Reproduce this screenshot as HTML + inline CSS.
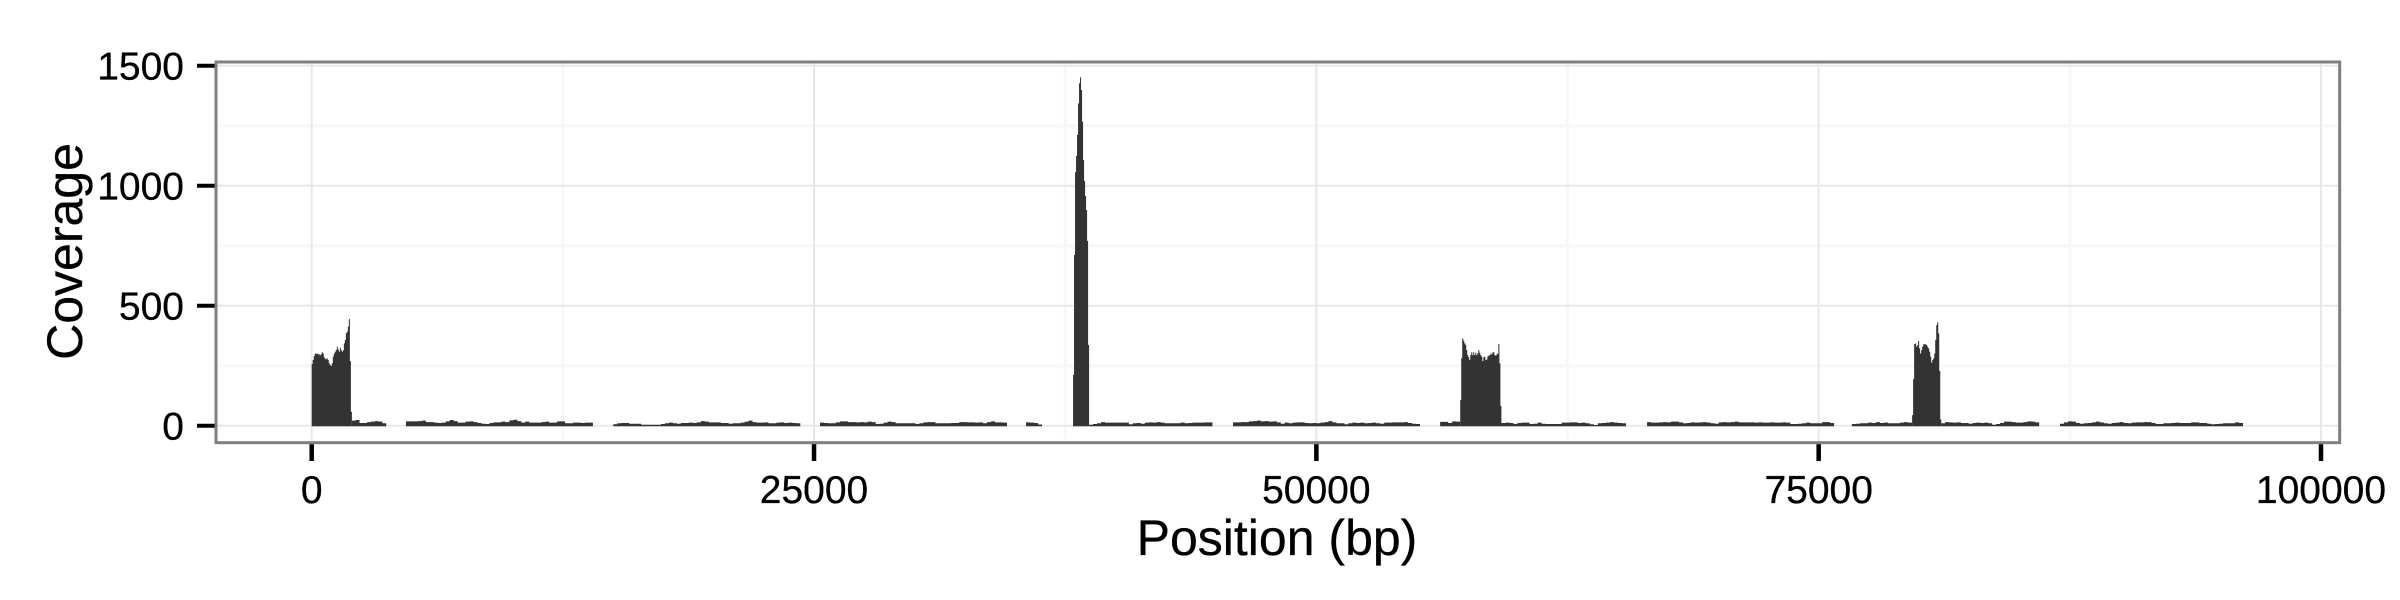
<!DOCTYPE html>
<html lang="en">
<head>
<meta charset="utf-8">
<title>Coverage by position</title>
<style>
html,body{margin:0;padding:0;background:#fff;width:2400px;height:600px;overflow:hidden}
svg{display:block}
text{font-family:"Liberation Sans",Arial,sans-serif;fill:#000;stroke:#000;stroke-width:0.3px}
</style>
</head>
<body>
<svg id="chart" xmlns="http://www.w3.org/2000/svg" width="2400" height="600" viewBox="0 0 2400 600">
  <rect x="0" y="0" width="2400" height="600" fill="#ffffff"/>
  <g id="grid"></g>
  <g id="marks"></g>
  <rect x="216" y="62" width="2123.7" height="380.7" fill="none" stroke="#7f7f7f" stroke-width="3"/>
  <g id="ticks"></g>
  <g id="labels"></g>
  <text x="1277" y="555" font-size="50" text-anchor="middle">Position (bp)</text>
  <text x="0" y="0" font-size="50" text-anchor="middle" transform="translate(82,251.5) rotate(-90)">Coverage</text>
</svg>
<script>
const xTickValues = [0, 25000, 50000, 75000, 100000];
const yTickValues = [0, 500, 1000, 1500];
const xMinorValues = [12500, 37500, 62500, 87500];
const yMinorValues = [250, 750, 1250];

const peak1Values = [257,274,290,301,300,301,297,298,293,297,306,301,285,279,277,281,274,260,253,249,260,288,301,308,315,329,318,308,325,315,308,315,343,357,385,392,413,444,269,58];
const tail1Values = [21,24,11,11,15,17,19,17,10];
const low2Values = [18,18,18,19,21,15,15,13,11,13,18,24,19,13,13,17,18,15,11,8,7,11,14,14,17,15,22,25,19,13,17,13,13,13,15,17,13,13,18,18,10,10,13,13,11,13,13];
const low3Values = [6,10,11,11,8,8,8,4,4,4,4,4,7,10,13,10,8,11,11,13,11,14,19,17,14,14,14,11,11,8,10,10,13,17,21,15,13,13,14,10,10,13,14,11,13,11,10];
const low4Values = [13,11,10,10,14,18,18,15,15,14,15,14,17,15,7,8,13,17,15,10,10,10,10,10,7,10,14,15,15,10,10,10,10,11,11,15,15,14,14,13,14,10,15,18,14,14,13];
const low5Values = [14,13,11,5];
const peak2Values = [211,711,1056,1124,1211,1343,1427,1452,1399,1267,1107,1020,957,899,770,336];
const post2Values = [4,7,10,15,13,13,13,13,13,13,6,10,11,8,13,14,13,15,13,10,10,10,10,13,10,11,13,13,13,14,14];
const low7Values = [14,14,15,15,18,19,21,18,19,17,18,14,8,13,10,13,14,14,11,10,11,10,13,15,19,14,10,10,6,10,13,11,13,10,11,13,10,8,13,13,14,14,14,15,11,8,7];
const pre3Values = [16,16,11,18,17];
const peak3Values = [107,281,364,354,343,336,315,294,285,274,294,306,294,306,294,304,294,301,315,304,294,288,269,285,288,274,276,288,292,294,301,297,306,306,294,292,297,301,340,260,82];
const post3Values = [11,13,11,7,11,13,13,7,8,13,8,7,7,7,7,13,13,14,14,11,13,10,6,3,10,11,13,15,13,11,10];
const low9Values = [15,13,13,14,15,14,17,17,14,10,11,14,13,14,15,13,10,8,14,15,14,15,17,14,14,14,14,13,14,13,13,14,13,13,14,13,7,7,8,10,13,10,10,10,15,15,11];
const pre4Values = [7,8,10,10,13,11,15,11,13,10,10,10,13,15,13];
const peak4Values = [44,194,340,343,329,336,353,322,301,315,329,339,340,339,336,329,322,308,288,263,274,281,301,357,419,431,385,228,26];
const post4Values = [10,15,14,13,14,11,11,8,11,13,11,13,10,4,7,11,17,17,15,13,13,15,18,17,14];
const low11Values = [8,14,18,17,11,8,10,11,14,17,14,10,8,11,13,15,11,10,13,14,14,15,15,11,7,7,10,10,11,13,11,11,11,14,14,11,11,8,6,7,8,10,10,10,14,11];

const segmentStartsBp = [0,2000,4690,15010,25297,35550,37890,38690,45853,56160,57160,59210,66460,76650,79650,81100,87010];
const segmentBinsBp = [50,190,198,198,198,200,50,198,198,200,50,200,198,200,50,195,198];
const segmentValues = [peak1Values,tail1Values,low2Values,low3Values,low4Values,low5Values,peak2Values,post2Values,low7Values,pre3Values,peak3Values,post3Values,low9Values,pre4Values,peak4Values,post4Values,low11Values];

const SVG_NS = 'http://www.w3.org/2000/svg';
const panelLeft = 216, panelRight = 2339.7, panelTop = 62, panelBottom = 442.7;
function xScale(bp){ return 311.7 + bp * 0.020093; }
function yScale(v){ return 425.7 - v * 0.24; }

function line(parent, x1, y1, x2, y2, color, width){
  const l = document.createElementNS(SVG_NS, 'line');
  l.setAttribute('x1', x1);
  l.setAttribute('y1', y1);
  l.setAttribute('x2', x2);
  l.setAttribute('y2', y2);
  l.setAttribute('stroke', color);
  l.setAttribute('stroke-width', width);
  parent.appendChild(l);
  return l;
}
function label(parent, x, y, anchor, str){
  const t = document.createElementNS(SVG_NS, 'text');
  t.setAttribute('x', x);
  t.setAttribute('y', y);
  t.setAttribute('text-anchor', anchor);
  t.setAttribute('font-size', '39');
  t.textContent = str;
  parent.appendChild(t);
  return t;
}

const grid = document.getElementById('grid');
const marks = document.getElementById('marks');
const ticks = document.getElementById('ticks');
const labels = document.getElementById('labels');

yMinorValues.forEach(function(v){
  const el = line(grid, panelLeft, yScale(v), panelRight, yScale(v), '#f7f7f7', 3);
  
  
});
xMinorValues.forEach(function(v){
  const el = line(grid, xScale(v), panelTop, xScale(v), panelBottom, '#f7f7f7', 3);
  
  
});
yTickValues.forEach(function(v){
  const el = line(grid, panelLeft, yScale(v), panelRight, yScale(v), '#e8e8e8', 2);
  
  
});
xTickValues.forEach(function(v){
  const el = line(grid, xScale(v), panelTop, xScale(v), panelBottom, '#e8e8e8', 2);
  
  
});

segmentValues.forEach(function(values, i){
  const start = segmentStartsBp[i], bin = segmentBinsBp[i];
  const floor = (yScale(0) + 0.6).toFixed(2);
  let d = 'M' + xScale(start).toFixed(2) + ' ' + floor;
  values.forEach(function(v, k){
    const y = yScale(v).toFixed(2);
    d += 'L' + xScale(start + k * bin).toFixed(2) + ' ' + y;
    d += 'L' + xScale(start + (k + 1) * bin).toFixed(2) + ' ' + y;
  });
  d += 'L' + xScale(start + values.length * bin).toFixed(2) + ' ' + floor + 'Z';
  const p = document.createElementNS(SVG_NS, 'path');
  p.setAttribute('d', d);
  p.setAttribute('fill', '#333333');
  
  
  marks.appendChild(p);
});

yTickValues.forEach(function(v){
  const tick = line(ticks, 197, yScale(v), 214.5, yScale(v), '#000000', 4);
  
  
  const text = label(labels, 184, yScale(v) + 14, 'end', String(v));
  
  
});
xTickValues.forEach(function(v){
  const tick = line(ticks, xScale(v), 444.2, xScale(v), 461, '#000000', 4.5);
  
  
  const text = label(labels, xScale(v), 503, 'middle', String(v));
  
  
});
</script>
</body>
</html>
